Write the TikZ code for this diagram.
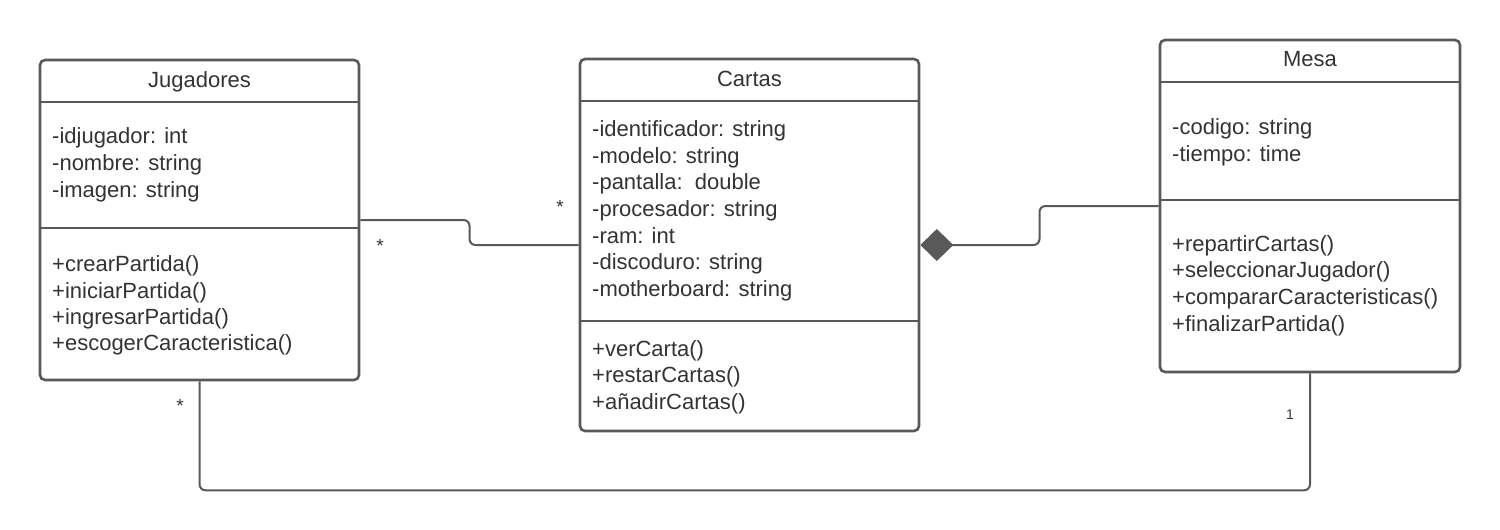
\documentclass[tikz,border=0pt]{standalone}
\usepackage{fontspec}
\setmainfont{Liberation Sans}
\usetikzlibrary{arrows.meta,calc}
\definecolor{txt}{HTML}{333333}
\definecolor{ln}{HTML}{595959}
\begin{document}
\begin{tikzpicture}[x=1pt,y=-1pt,
  classbox/.style={draw=ln,line width=2.6pt,rounded corners=5pt,fill=white,inner sep=0pt},
  divider/.style={draw=ln,line width=2.6pt},
  member/.style={anchor=base west,inner sep=0pt,text=txt,font=\fontsize{22}{26}\selectfont},
  ctitle/.style={anchor=base,inner sep=0pt,text=txt,font=\fontsize{22}{26}\selectfont},
  conn/.style={draw=ln,line width=2pt,rounded corners=6pt},
  mult/.style={inner sep=0pt,text=txt,font=\fontsize{19}{22}\selectfont},
  multsmall/.style={inner sep=0pt,text=txt,font=\fontsize{14}{16}\selectfont}]
\useasboundingbox (0,0) rectangle (1500,530);

% ---------- Jugadores ----------
\node[classbox,minimum width=319pt,minimum height=320pt] (jug) at (199.5,220) {};
\draw[divider] (40,102) -- (359,102);
\draw[divider] (40,228) -- (359,228);
\node[ctitle] (jugT) at (199.5,87) {Jugadores};
\node[member] (j1) at (52,143) {-idjugador: int};
\node[member] (j2) at (52,170) {-nombre: string};
\node[member] (j3) at (52,197) {-imagen: string};
\node[member] (j4) at (52,271) {+crearPartida()};
\node[member] (j5) at (52,298) {+iniciarPartida()};
\node[member] (j6) at (52,324) {+ingresarPartida()};
\node[member] (j7) at (52,350) {+escogerCaracteristica()};

% ---------- Cartas ----------
\node[classbox,minimum width=339pt,minimum height=372pt] (cartas) at (749.5,245) {};
\draw[divider] (580,101) -- (919,101);
\draw[divider] (580,321) -- (919,321);
\node[ctitle] (carT) at (749.5,86) {Cartas};
\node[member] (c1) at (592,136) {-identificador: string};
\node[member] (c2) at (592,163) {-modelo: string};
\node[member] (c3) at (592,189) {-pantalla:\ \ double};
\node[member] (c4) at (592,216) {-procesador: string};
\node[member] (c5) at (592,243) {-ram: int};
\node[member] (c6) at (592,269) {-discoduro: string};
\node[member] (c7) at (592,296) {-motherboard: string};
\node[member] (c8) at (592,356) {+verCarta()};
\node[member] (c9) at (592,382) {+restarCartas()};
\node[member] (c10) at (592,409) {+añadirCartas()};

% ---------- Mesa ----------
\node[classbox,minimum width=300pt,minimum height=332pt] (mesa) at (1310,206) {};
\draw[divider] (1160,82) -- (1460,82);
\draw[divider] (1160,200) -- (1460,200);
\node[ctitle] (mesT) at (1310,66) {Mesa};
\node[member] (m1) at (1172,134) {-codigo: string};
\node[member] (m2) at (1172,161) {-tiempo: time};
\node[member] (m3) at (1172,251) {+repartirCartas()};
\node[member] (m4) at (1172,277) {+seleccionarJugador()};
\node[member] (m5) at (1172,304) {+compararCaracteristicas()};
\node[member] (m6) at (1172,331) {+finalizarPartida()};

% ---------- connectors ----------
\draw[conn] (jug.east) -| ($(jug.east)!0.5!(cartas.west)$) |- (cartas.west);
\draw[conn,{Diamond[length=33pt,width=32pt,fill=ln]}-] (cartas.east) -| ($(cartas.east)!0.5!(mesa.west)$) |- (mesa.west);
\draw[conn] (jug.south) |- ($(mesa.south)+(0,117)$) -- (mesa.south);

% ---------- multiplicities ----------
\node[mult] (s1) at (380,246) {*};
\node[mult] (s2) at (560,207) {*};
\node[mult] (s3) at (180,406) {*};
\node[multsmall] (n1) at (1290,415) {1};
\end{tikzpicture}
\end{document}
